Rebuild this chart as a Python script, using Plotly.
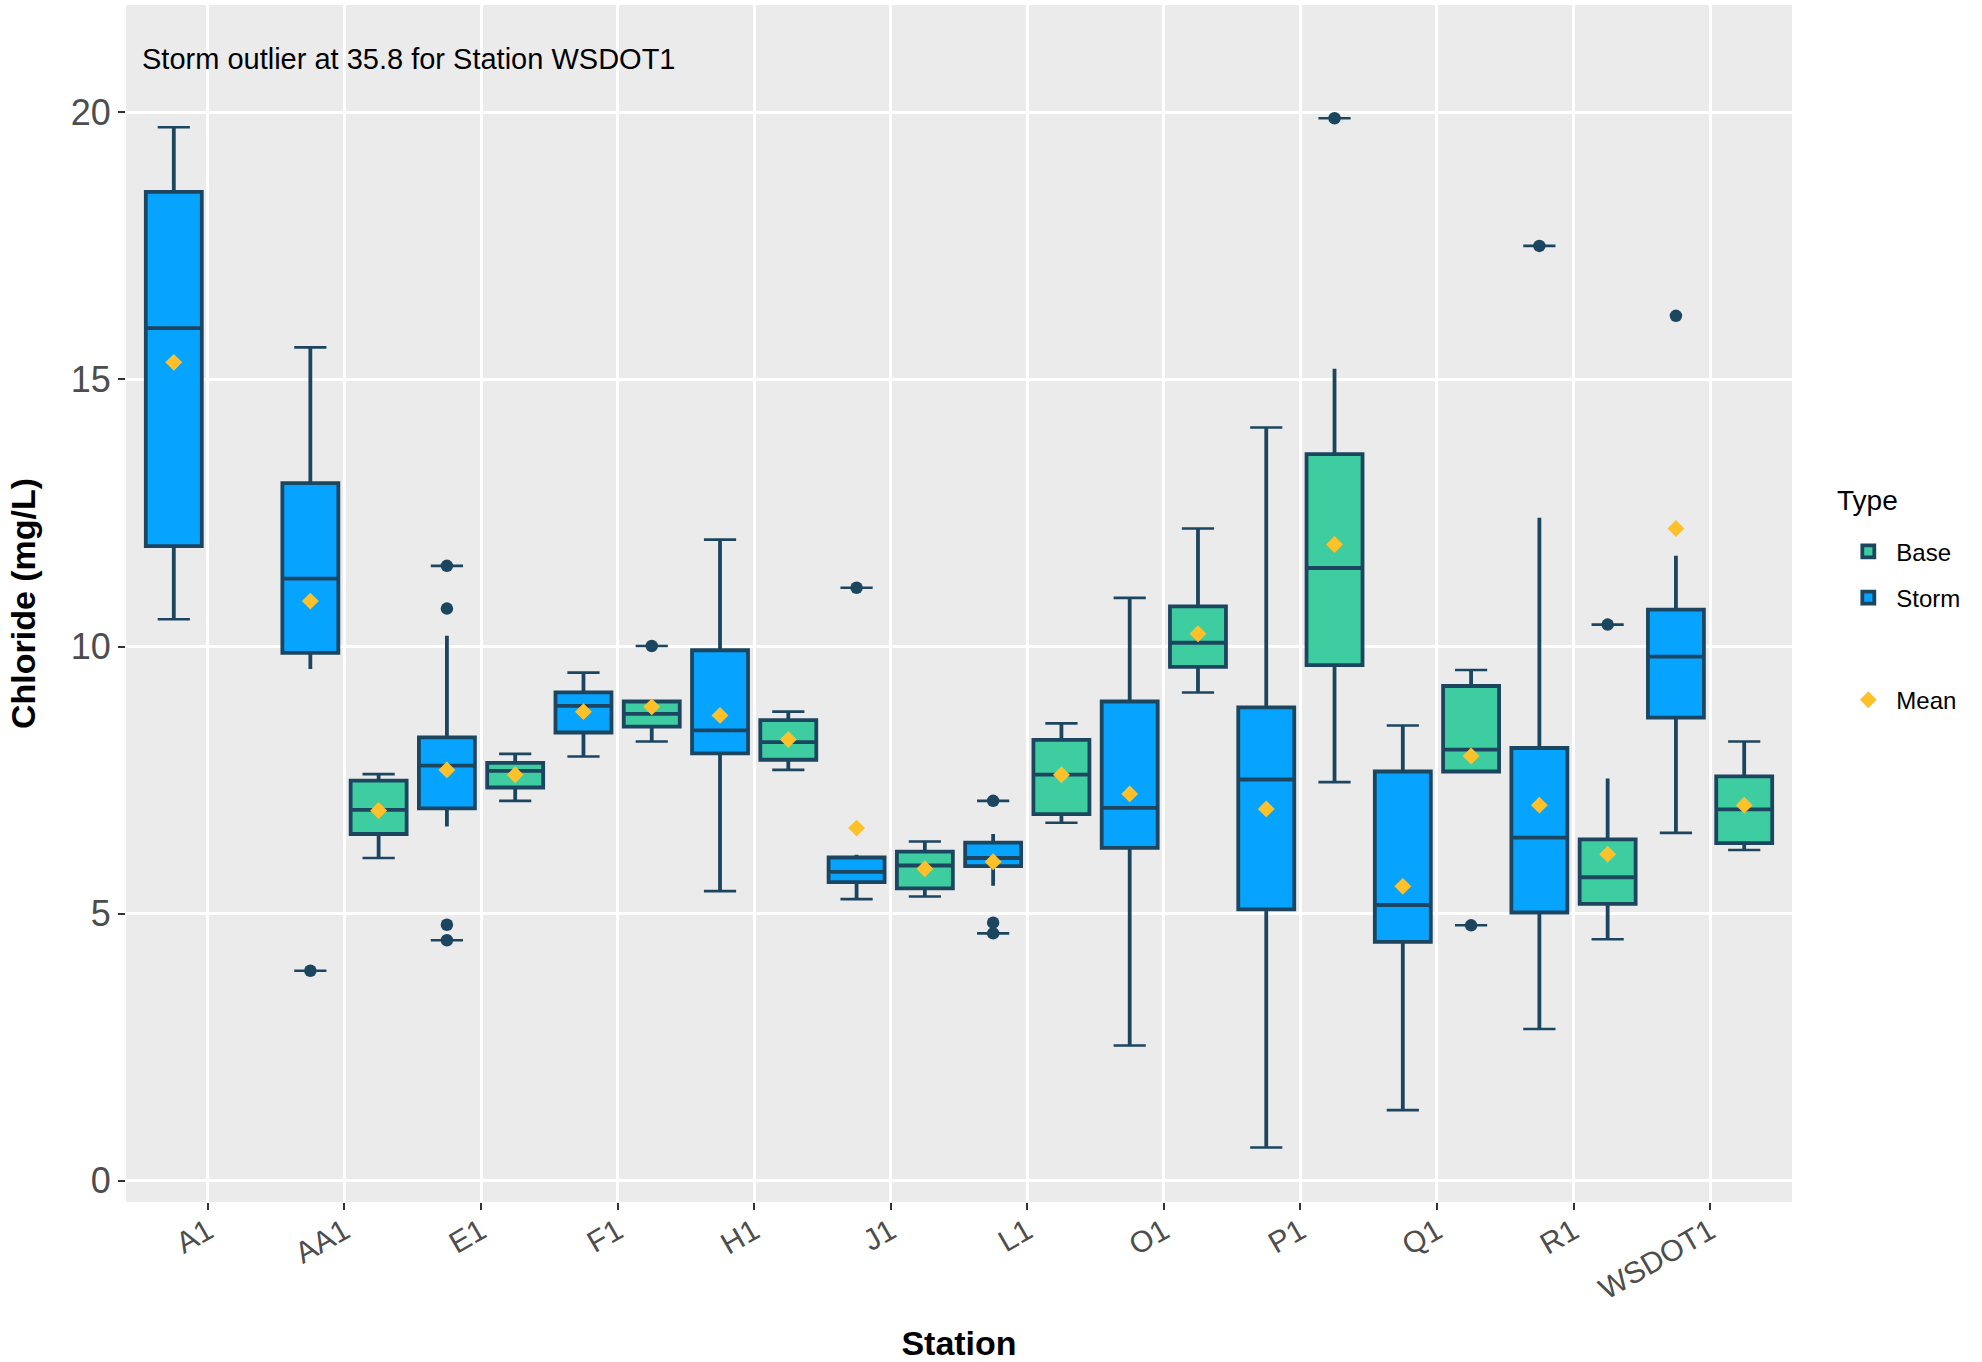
import plotly.graph_objects as go

# ---- data -------------------------------------------------------------
stations = ["A1", "AA1", "E1", "F1", "H1", "J1", "L1", "O1", "P1", "Q1", "R1", "WSDOT1"]

# Storm samples: box statistics per station
storm_lower = [10.51, 9.58, 6.63, 7.94, 5.42, 5.27, 5.52, 2.53, 0.62, 1.32, 2.84, 6.51]
storm_q1 = [11.88, 9.88, 6.97, 8.39, 8.00, 5.59, 5.89, 6.23, 5.08, 4.47, 5.02, 8.67]
storm_median = [15.96, 11.27, 7.77, 8.89, 8.43, 5.78, 6.04, 6.98, 7.51, 5.16, 6.42, 9.81]
storm_q3 = [18.51, 13.06, 8.30, 9.14, 9.93, 6.05, 6.33, 8.97, 8.86, 7.66, 8.10, 10.69]
storm_upper = [19.72, 15.60, 10.20, 9.51, 12.00, 6.10, 6.49, 10.91, 14.10, 8.52, 12.41, 11.70]
storm_mean = [15.32, 10.85, 7.69, 8.78, 8.71, 6.60, 5.97, 7.24, 6.96, 5.51, 7.03, 12.21]
storm_outliers = [[], [3.93], [11.51, 10.71, 4.79, 4.50], [], [], [11.10],
                  [7.11, 4.83, 4.63], [], [], [], [17.50], [16.19, 35.8]]

# Base-flow samples (A1 has none)
base_lower = [None, 6.04, 7.11, 8.22, 7.69, 5.32, 6.70, 9.14, 7.46, 7.66, 4.52, 6.19]
base_q1 = [None, 6.49, 7.36, 8.50, 7.88, 5.47, 6.86, 9.62, 9.65, 7.66, 5.18, 6.32]
base_median = [None, 6.94, 7.67, 8.74, 8.21, 5.90, 7.60, 10.07, 11.47, 8.07, 5.68, 6.95]
base_q3 = [None, 7.49, 7.82, 8.97, 8.62, 6.16, 8.25, 10.75, 13.60, 9.26, 6.39, 7.57]
base_upper = [None, 7.61, 7.99, 8.97, 8.78, 6.35, 8.56, 12.21, 15.20, 9.56, 7.53, 8.22]
base_mean = [None, 6.93, 7.60, 8.87, 8.26, 5.84, 7.60, 10.24, 11.91, 7.95, 6.11, 7.03]
base_outliers = [[], [], [], [10.01], [], [], [], [], [19.89], [4.78], [10.41], []]

# ---- styling ----------------------------------------------------------
FONT = "Liberation Sans"
OUTLINE = "#1C465F"
STORM_FILL = "#06A3FF"
BASE_FILL = "#3ECDA1"
MEAN_COLOR = "#FFC12A"
DODGE = 0.25      # half the distance between the two boxes of a station
BOX_WIDTH = 0.41

series = [
    dict(name="Storm", fill=STORM_FILL, offset=-DODGE, rank=2,
         lower=storm_lower, q1=storm_q1, median=storm_median, q3=storm_q3,
         upper=storm_upper, mean=storm_mean, outliers=storm_outliers),
    dict(name="Base", fill=BASE_FILL, offset=DODGE, rank=1,
         lower=base_lower, q1=base_q1, median=base_median, q3=base_q3,
         upper=base_upper, mean=base_mean, outliers=base_outliers),
]

fig = go.Figure()

for s in series:
    idx = [i for i, v in enumerate(s["median"]) if v is not None]
    pos = [i + s["offset"] for i in idx]

    fig.add_trace(go.Box(
        name=s["name"], x=pos,
        q1=[s["q1"][i] for i in idx],
        median=[s["median"][i] for i in idx],
        q3=[s["q3"][i] for i in idx],
        lowerfence=[s["lower"][i] for i in idx],
        upperfence=[s["upper"][i] for i in idx],
        width=BOX_WIDTH, whiskerwidth=0, boxpoints=False,
        fillcolor=s["fill"], line=dict(color=OUTLINE, width=3.8),
        legend="legend", legendrank=s["rank"], legendgroup=s["name"],
        hoverinfo="skip",
    ))

    # end caps at the smallest and largest observation of each group
    cap_x, cap_y = [], []
    for i in idx:
        values = [s["lower"][i], s["upper"][i]] + s["outliers"][i]
        cap_x += [i + s["offset"], i + s["offset"]]
        cap_y += [min(values), max(values)]
    fig.add_trace(go.Scatter(
        x=cap_x, y=cap_y, mode="markers", showlegend=False, hoverinfo="skip",
        marker=dict(symbol="line-ew", size=23, line=dict(color=OUTLINE, width=2.6)),
    ))

    # outlying observations
    out_x, out_y = [], []
    for i in idx:
        for v in s["outliers"][i]:
            out_x.append(i + s["offset"])
            out_y.append(v)
    fig.add_trace(go.Scatter(
        x=out_x, y=out_y, mode="markers", showlegend=False, hoverinfo="skip",
        marker=dict(symbol="circle", size=12.5, color=OUTLINE),
    ))

# group means
for k, s in enumerate(series):
    idx = [i for i, v in enumerate(s["mean"]) if v is not None]
    fig.add_trace(go.Scatter(
        x=[i + s["offset"] for i in idx], y=[s["mean"][i] for i in idx],
        mode="markers", name="Mean", legend="legend2", showlegend=(k == 0),
        hoverinfo="skip",
        marker=dict(symbol="diamond", size=13, color=MEAN_COLOR, line=dict(width=0)),
    ))

fig.add_annotation(
    x=-0.5, y=21, xref="x", yref="y", xanchor="left", yanchor="middle",
    text="Storm outlier at 35.8 for Station WSDOT1", showarrow=False,
    font=dict(family=FONT, size=29, color="black"),
)

# legend heading
fig.add_annotation(
    x=1.026, y=0.586, xref="paper", yref="paper", xanchor="left", yanchor="middle",
    text="Type", showarrow=False, font=dict(family=FONT, size=28, color="black"),
)

fig.update_layout(
    width=1982, height=1362,
    margin=dict(l=126, r=190, t=5, b=160),
    plot_bgcolor="#EBEBEB", paper_bgcolor="white",
    font=dict(family=FONT, color="black"),
    boxmode="overlay",
    legend=dict(
        x=1.029, xanchor="left", y=0.562, yanchor="top", itemwidth=46,
        font=dict(size=24, family=FONT), traceorder="grouped",
        tracegroupgap=12, bgcolor="rgba(0,0,0,0)",
    ),
    legend2=dict(
        x=1.029, xanchor="left", y=0.438, yanchor="top", itemwidth=46,
        font=dict(size=24, family=FONT), bgcolor="rgba(0,0,0,0)",
    ),
    xaxis=dict(
        range=[-0.6, 11.6], tickmode="array", tickvals=list(range(len(stations))),
        ticktext=stations, tickangle=-30, ticklabelstandoff=-8,
        tickfont=dict(size=30, color="#4D4D4D", family=FONT),
        showgrid=True, gridcolor="white", gridwidth=2.5, zeroline=False,
        ticks="outside", ticklen=7, tickwidth=2, tickcolor="#333333",
        title=dict(text="<b>Station</b>", font=dict(size=34, family=FONT), standoff=28),
    ),
    yaxis=dict(
        range=[-0.40, 22.01], tickmode="array", tickvals=[0, 5, 10, 15, 20],
        tickfont=dict(size=36, color="#4D4D4D", family=FONT),
        showgrid=True, gridcolor="white", gridwidth=2.5, zeroline=False,
        ticks="outside", ticklen=7, tickwidth=2, tickcolor="#333333",
        title=dict(text="<b>Chloride (mg/L)</b>", font=dict(size=34, family=FONT), standoff=24),
    ),
)

fig.write_html("out.html")
